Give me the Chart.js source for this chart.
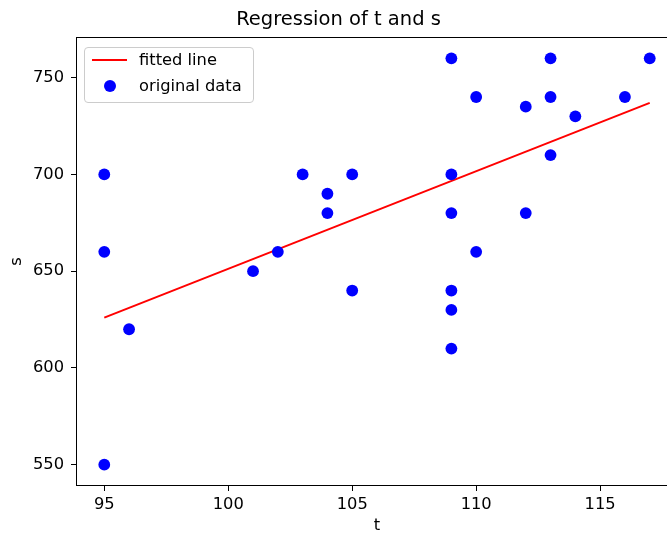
<!DOCTYPE html>
<html>
<head>
<meta charset="utf-8">
<script src="https://cdn.jsdelivr.net/npm/chart.js@4/dist/chart.umd.min.js"></script>
<style>
  html, body { margin: 0; padding: 0; background: #fff; overflow: hidden; width: 667px; height: 536px; }
  #wrap { position: relative; width: 690px; height: 536px; }
  #c { position: absolute; left: 0; top: 0; }
  #legend { position: absolute; left: 84px; top: 47px; width: 168px; height: 54px;
    border: 1px solid #cccccc; border-radius: 4px; background: rgba(255,255,255,0.8);
    font-family: "DejaVu Sans", sans-serif; font-size: 16.3px; color: #000; }
  .item { position: absolute; left: 0; height: 20px; line-height: 20px; white-space: nowrap; }
  .sw-line { position: absolute; left: 7px; top: 9px; width: 35px; height: 2px; }
  .sw-dot { position: absolute; left: 19px; top: 4px; width: 12px; height: 12px; border-radius: 50%; }
  .lbl { position: absolute; left: 54px; top: 0; }
</style>
</head>
<body>
<div id="wrap">
  <canvas id="c" width="690" height="536"></canvas>
  <div id="legend"></div>
</div>
<script>
// ---- data ----
const tValues = [95, 95, 95, 96, 101, 102, 103, 104, 104, 105, 105,
                 109, 109, 109, 109, 109, 109, 110, 110, 112, 112,
                 113, 113, 113, 114, 116, 117];
const sValues = [700, 660, 550, 620, 650, 660, 700, 690, 680, 700, 640,
                 760, 700, 680, 640, 630, 610, 740, 660, 735, 680,
                 760, 740, 710, 730, 740, 760];
const fitT = [95, 117];
const fitS = [626, 737];
const xTicks = [95, 100, 105, 110, 115];
const yTicks = [550, 600, 650, 700, 750];
const seriesNames = ['fitted line', 'original data'];
const titleText = 'Regression of t and s';
const xLabel = 't';
const yLabel = 's';

const FONT = '"DejaVu Sans", sans-serif';

const framePlugin = {
  id: 'frame',
  afterDraw(chart) {
    const a = chart.chartArea, ctx = chart.ctx;
    ctx.save();
    ctx.strokeStyle = '#000';
    ctx.lineWidth = 1;
    ctx.strokeRect(Math.round(a.left) - 0.5, Math.round(a.top) - 0.5,
                   Math.round(a.right - a.left) + 1, Math.round(a.bottom - a.top) + 1);
    ctx.restore();
  }
};

const chart = new Chart(document.getElementById('c'), {
  data: {
    datasets: [
      {
        type: 'scatter',
        label: seriesNames[1],
        data: tValues.map((t, i) => ({ x: t, y: sValues[i] })),
        backgroundColor: '#0000ff',
        borderWidth: 0,
        pointRadius: 5.9,
        order: 0
      },
      {
        type: 'line',
        label: seriesNames[0],
        data: fitT.map((t, i) => ({ x: t, y: fitS[i] })),
        borderColor: '#ff0000',
        borderWidth: 2,
        pointRadius: 0,
        fill: false,
        order: 1
      }
    ]
  },
  options: {
    responsive: false,
    animation: false,
    events: [],
    layout: { padding: { left: 0, right: 13, top: 0, bottom: 0 } },
    plugins: {
      legend: { display: false },
      tooltip: { enabled: false },
      title: {
        display: true,
        text: titleText,
        color: '#000',
        font: { family: FONT, size: 19.5, weight: 'normal', lineHeight: 1.2 },
        padding: { top: 8, bottom: 6.6 }
      }
    },
    scales: {
      x: {
        type: 'linear',
        min: 93.9,
        max: 118.1,
        afterBuildTicks(s) { s.ticks = xTicks.map(v => ({ value: v })); },
        afterFit(s) { s.height = 51; },
        grid: { display: true, drawOnChartArea: false, drawTicks: true, tickLength: 6, color: '#000', tickWidth: 1 },
        border: { display: false },
        ticks: { color: '#000', font: { family: FONT, size: 16.3 }, padding: 4, maxRotation: 0 },
        title: { display: true, text: xLabel, color: '#000', font: { family: FONT, size: 16.3 }, padding: { top: 0, bottom: 0 } }
      },
      y: {
        type: 'linear',
        min: 539.5,
        max: 770.5,
        afterBuildTicks(s) { s.ticks = yTicks.map(v => ({ value: v })); },
        afterFit(s) { s.width = 77; },
        grid: { display: true, drawOnChartArea: false, drawTicks: true, tickLength: 6, color: '#000', tickWidth: 1 },
        border: { display: false },
        ticks: { color: '#000', font: { family: FONT, size: 16.3 }, padding: 7 },
        title: { display: true, text: yLabel, color: '#000', font: { family: FONT, size: 16.3 }, padding: { top: 7.2, bottom: 0 } }
      }
    }
  },
  plugins: [framePlugin]
});

// HTML legend built from the datasets
const legend = document.getElementById('legend');
const lineDs = chart.data.datasets[1];
const dotDs = chart.data.datasets[0];
legend.innerHTML =
  '<div class="item" style="top:2px;width:100%"><div class="sw-line" style="background:' + lineDs.borderColor + '"></div><span class="lbl">' + lineDs.label + '</span></div>' +
  '<div class="item" style="top:28px;width:100%"><div class="sw-dot" style="background:' + dotDs.backgroundColor + '"></div><span class="lbl">' + dotDs.label + '</span></div>';
</script>
</body>
</html>
